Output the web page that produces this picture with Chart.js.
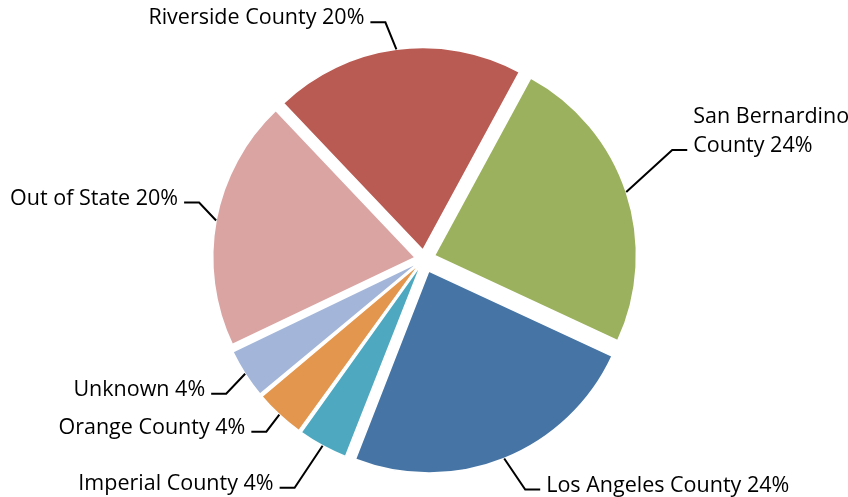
<!DOCTYPE html>
<html>
<head>
<meta charset="utf-8">
<script src="https://cdn.jsdelivr.net/npm/chart.js@4"></script>
<style>
  body { margin: 0; background: #fff; }
  #wrap { width: 848px; height: 497px; position: relative; }
</style>
</head>
<body>
<div id="wrap"><canvas id="pieChart"></canvas></div>
<script>
const categories = ['San Bernardino County', 'Los Angeles County', 'Imperial County', 'Orange County', 'Unknown', 'Out of State', 'Riverside County'];
const shares = [24, 24, 4, 4, 4, 20, 20];
const sliceColors = ['#9BB15E', '#4675A5', '#4EA9C0', '#E3964E', '#A3B6D9', '#DAA4A3', '#B95B53'];

// pixel distance each slice is pulled out (Chart.js draws offset / 4)
const slicePull = [11, 13, 6, 6, 6, 9, 9];
// leader line: from slice edge to the bend, then a short horizontal tick
const leaderBend = [[46, -42], [21, 31], [-28, 42], [-13, 17], [-19, 20], [-17, -18], [-11, -27]];
const wrapLabel = [true, false, false, false, false, false, false];

const leaderPlugin = {
    id: 'leaders',
    afterDatasetsDraw(chart) {
        const ctx = chart.ctx;
        const meta = chart.getDatasetMeta(0);
        ctx.save();
        ctx.strokeStyle = '#000';
        ctx.lineWidth = 2;
        ctx.fillStyle = '#000';
        ctx.font = '21.5px "Open Sans"';
        ctx.textBaseline = 'middle';
        meta.data.forEach((arc, i) => {
            const mid = (arc.startAngle + arc.endAngle) / 2;
            const circ = arc.endAngle - arc.startAngle;
            const fix = 1 - Math.sin(Math.min(Math.PI, circ));
            const cos = Math.cos(mid), sin = Math.sin(mid);
            const r0 = arc.outerRadius + slicePull[i] * (1 + fix);
            const ax = arc.x + cos * r0, ay = arc.y + sin * r0;
            const ex = ax + leaderBend[i][0], ey = ay + leaderBend[i][1];
            const dir = cos >= 0 ? 1 : -1;
            const hx = ex + dir * 15;
            ctx.beginPath();
            ctx.moveTo(ax, ay);
            ctx.lineTo(ex, ey);
            ctx.lineTo(hx, ey);
            ctx.stroke();

            let lines = [categories[i] + ' ' + shares[i] + '%'];
            if (wrapLabel[i]) {
                const words = categories[i].split(' ');
                lines = [words.slice(0, -1).join(' '), words[words.length - 1] + ' ' + shares[i] + '%'];
            }
            ctx.textAlign = dir > 0 ? 'left' : 'right';
            const tx = hx + dir * 6;
            lines.forEach((ln, k) => {
                ctx.fillText(ln, tx, ey - 4 - (lines.length - 1 - k) * 29);
            });
        });
        ctx.restore();
    }
};

new Chart(document.getElementById('pieChart').getContext('2d'), {
    type: 'pie',
    data: {
        labels: categories,
        datasets: [{
            data: shares,
            backgroundColor: sliceColors,
            borderColor: '#fff',
            borderWidth: 1.5,
            offset: slicePull.map(p => p * 4)
        }]
    },
    options: {
        responsive: true,
        maintainAspectRatio: false,
        animation: false,
        rotation: 28.5,
        radius: 202,
        layout: { padding: { top: 21 } },
        plugins: {
            legend: { display: false },
            tooltip: { enabled: false }
        }
    },
    plugins: [leaderPlugin]
});
</script>
</body>
</html>
